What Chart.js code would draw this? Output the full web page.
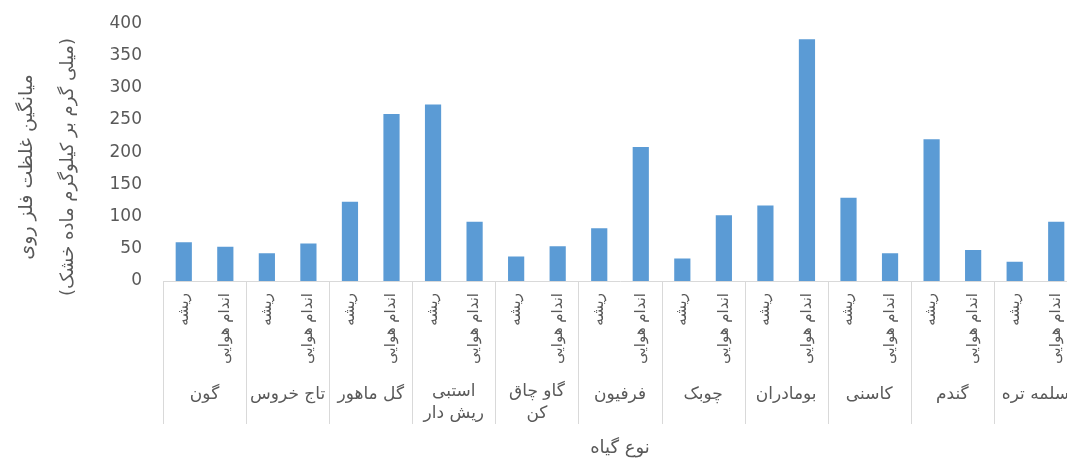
<!DOCTYPE html>
<html>
<head>
<meta charset="utf-8">
<script src="https://cdn.jsdelivr.net/npm/chart.js@4"></script>
<style>
  body { margin: 0; overflow: hidden; background: #fff; }
</style>
</head>
<body>
<canvas id="zinc-chart" width="1080" height="462"></canvas>
<script>
const plants = ["گون", "تاج خروس", "گل ماهور", ["استبی", "ریش دار"], ["گاو چاق", "کن"], "فرفیون", "چوبک", "بومادران", "کاسنی", "گندم", "سلمه تره"];
const organs = ["ریشه", "اندام هوایی"];
const rootValues = [60, 43, 123, 274, 38, 82, 35, 117, 129, 220, 30];
const shootValues = [53, 58, 259, 92, 54, 208, 102, 375, 43, 48, 92];
const yTicks = [0, 50, 100, 150, 200, 250, 300, 350, 400];
const yTitle = ["میانگین غلظت فلز روی", "(میلی گرم بر کیلوگرم ماده خشک)"];
const xTitle = "نوع گیاه";

const textColor = "#595959";
const lineColor = "#d9d9d9";
const faFont = "'DejaVu Sans', sans-serif";

// two bars per plant: root then shoot
const labels = [];
const values = [];
plants.forEach(function(p, i){
    labels.push(organs[0], organs[1]);
    values.push(rootValues[i], shootValues[i]);
});

const axisText = {
    id: "axisText",
    afterDraw(chart){
        const ctx = chart.ctx;
        const xs = chart.scales.x;
        const area = chart.chartArea;
        const step = xs.width / labels.length;
        ctx.save();
        ctx.direction = "rtl";
        ctx.fillStyle = textColor;

        // rotated organ labels under every bar
        ctx.font = "15px " + faFont;
        ctx.textAlign = "right";
        ctx.textBaseline = "middle";
        labels.forEach(function(lab, i){
            const x = xs.getPixelForValue(i);
            ctx.save();
            ctx.translate(x, area.bottom + 12);
            ctx.rotate(-Math.PI / 2);
            ctx.fillText(lab, 0, 0);
            ctx.restore();
        });

        // plant names + separators
        ctx.font = "17px " + faFont;
        ctx.textAlign = "center";
        ctx.strokeStyle = lineColor;
        ctx.lineWidth = 1;
        plants.forEach(function(p, g){
            const left = xs.getPixelForValue(2 * g) - step / 2;
            const mid = (xs.getPixelForValue(2 * g) + xs.getPixelForValue(2 * g + 1)) / 2;
            ctx.beginPath();
            ctx.moveTo(Math.round(left) + 0.5, area.bottom);
            ctx.lineTo(Math.round(left) + 0.5, area.bottom + 143);
            ctx.stroke();
            const lines = Array.isArray(p) ? p : [p];
            const y0 = lines.length > 1 ? area.bottom + 111 : area.bottom + 114;
            lines.forEach(function(t, k){
                ctx.fillText(t, mid, y0 + k * 22);
            });
        });

        // x title
        ctx.font = "18px " + faFont;
        ctx.fillText(xTitle, (area.left + area.right) / 2, area.bottom + 167);

        // y title, two rotated lines
        [[27, 19], [68, 18]].forEach(function(pos, k){
            ctx.save();
            ctx.font = pos[1] + "px " + faFont;
            ctx.translate(pos[0], 167);
            ctx.rotate(-Math.PI / 2);
            ctx.fillText(yTitle[k], 0, 0);
            ctx.restore();
        });
        ctx.restore();
    }
};

new Chart(document.getElementById("zinc-chart"), {
    type: "bar",
    data: {
        labels: labels,
        datasets: [{
            data: values,
            backgroundColor: "#5b9bd5",
            barPercentage: 0.39,
            categoryPercentage: 1
        }]
    },
    options: {
        responsive: false,
        animation: false,
        devicePixelRatio: 1,
        layout: { padding: { left: 0, top: 17, right: 3, bottom: 173 } },
        plugins: { legend: { display: false }, tooltip: { enabled: false } },
        scales: {
            x: {
                grid: { display: false },
                border: { display: true, color: lineColor },
                ticks: { display: false }
            },
            y: {
                min: 0,
                max: 400,
                afterFit(scale){ scale.width = 163; },
                afterBuildTicks(scale){ scale.ticks = yTicks.map(function(v){ return { value: v }; }); },
                grid: { display: false },
                border: { display: false },
                ticks: { color: textColor, padding: 13, font: { family: "'DejaVu Sans'", size: 17 } }
            }
        }
    },
    plugins: [axisText]
});
</script>
</body>
</html>
